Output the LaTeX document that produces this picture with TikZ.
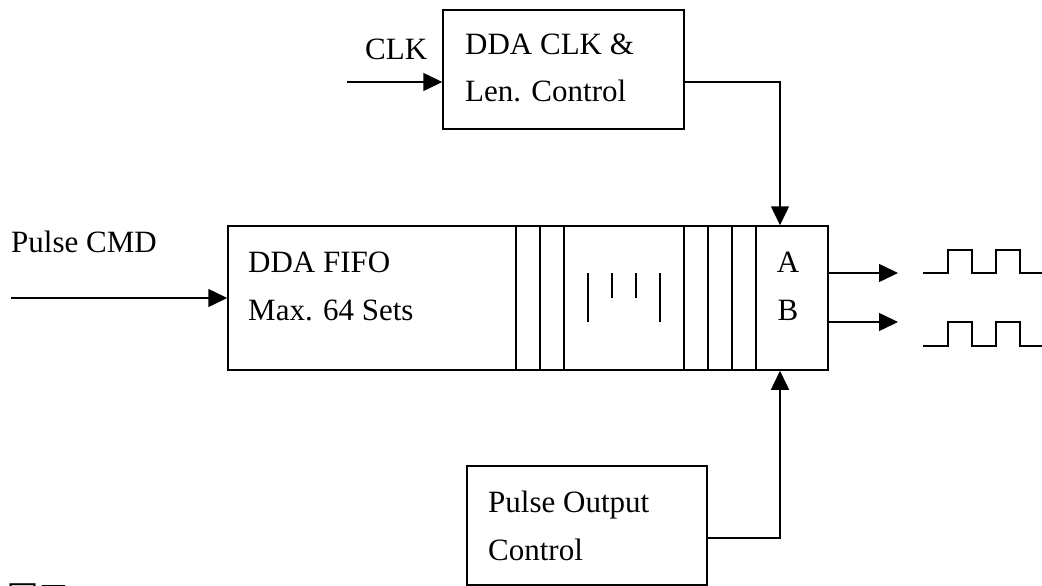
\documentclass[tikz,border=0pt]{standalone}
\usepackage{fontspec}
\setmainfont{Liberation Serif}
\newfontfamily\cjk{Noto Sans CJK TC}
\usetikzlibrary{arrows.meta}
\tikzset{
  box/.style={draw, line width=1.5pt, inner sep=0pt},
  wire/.style={line width=1.5pt},
  arr/.style={wire, -{Triangle[length=19pt,width=18pt]}},
  txt/.style={inner sep=0pt, anchor=base west, font=\fontsize{31}{37}\selectfont},
  txtc/.style={inner sep=0pt, anchor=base, font=\fontsize{31}{37}\selectfont},
}
\begin{document}
\begin{tikzpicture}[x=1pt,y=-1pt]
\clip (0,0) rectangle (1042,586);
\fill[white] (0,0) rectangle (1042,586);
% boxes
\node[box, minimum width=241pt, minimum height=119pt] (ctl) at (563.5,69.5) {};
\node[box, minimum width=600pt, minimum height=144pt] (fifo) at (528,298) {};
\node[box, minimum width=240pt, minimum height=119pt] (pob) at (587,525.5) {};
% FIFO cells
\foreach \x in {516,540,564,684,708,732,756}
  \draw[wire] (fifo.north -| \x,0) -- (fifo.south -| \x,0);
\draw[wire] (588,273) -- (588,322);
\draw[wire] (612,273) -- (612,298);
\draw[wire] (636,273) -- (636,298);
\draw[wire] (660,273) -- (660,322);
% texts
\node[txt] (t1) at (465,55) {DDA CLK \&};
\node[txt] (t2) at (465,102) {Len. Control};
\node[txt] (t3) at (248,272) {DDA FIFO};
\node[txt] (t4) at (248,320) {Max. 64 Sets};
\node[txt] (t5) at (488,512) {Pulse Output};
\node[txt] (t6) at (488,560) {Control};
\node[txtc] (ta) at (788,272) {A};
\node[txtc] (tb) at (788,320) {B};
\node[txt] (clk) at (365,60) {CLK};
\node[txt] (cmd) at (11,252) {Pulse CMD};
\node[txt, font=\cjk\fontsize{31}{37}\selectfont] (fig) at (7,608) {圖五};
% connectors
\coordinate (clkin) at (347,82);
\coordinate (colAB) at (780,0);
\coordinate (poy) at (0,538);
\coordinate (cmdin) at (11,298);
\coordinate (outA) at (898,273);
\coordinate (outB) at (898,322);
\draw[arr] (clkin) -- (clkin -| ctl.west);
\draw[arr] (ctl.east |- clkin) -| (fifo.north -| colAB);
\draw[arr] (pob.east |- poy) -| (fifo.south -| colAB);
\draw[arr] (cmdin) -- (fifo.west);
\draw[arr] (outA -| fifo.east) -- (outA);
\draw[arr] (outB -| fifo.east) -- (outB);
% waveforms
\draw[wire] (923,273) -- (948,273) -- (948,250) -- (972,250) -- (972,273) -- (996,273) -- (996,250) -- (1020,250) -- (1020,273) -- (1042,273);
\draw[wire] (923,346) -- (948,346) -- (948,322) -- (972,322) -- (972,346) -- (996,346) -- (996,322) -- (1020,322) -- (1020,346) -- (1042,346);
\end{tikzpicture}
\end{document}
